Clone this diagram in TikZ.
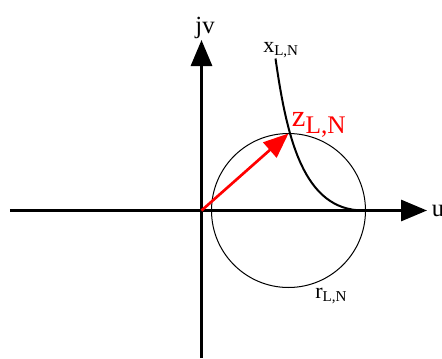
\documentclass[tikz,border=0pt]{standalone}
\usepackage{fontspec}
\setmainfont{Liberation Serif}
\usepackage{xcolor}
\usepackage{tikz}
\usetikzlibrary{arrows.meta,positioning}
\definecolor{zred}{HTML}{FF0000}
\newcommand{\axlbl}[2]{{\fontsize{16.5}{18}\selectfont #1}\raisebox{-2.5pt}{\fontsize{11.3}{12}\selectfont #2}}
\newcommand{\zlbl}[2]{{\fontsize{23}{25}\selectfont #1}\raisebox{-5pt}{\fontsize{19}{20}\selectfont #2}}

\begin{document}
\begin{tikzpicture}[x=0.75pt,y=0.75pt,
    axis/.style={line width=2.25pt, -{Triangle[length=19.5pt,width=15.75pt]}},
    lbl/.style={inner sep=0pt, anchor=base west}]
      \useasboundingbox (-201.5,-147.5) rectangle (240.5,210.5);
      \coordinate (O) at (0,0);
      \coordinate (ustart) at (-191.5,0);
      \coordinate (uend) at (225.5,0);
      \coordinate (vstart) at (0,-147.5);
      \coordinate (vend) at (0,170.5);
      \coordinate (xtop) at (74,152);
      \coordinate (xend) at (162,0);
      % axes
      \draw[axis] (ustart) -- (uend);
      \draw[axis] (vstart) -- (vend);
      \node[lbl] (ulbl) at (230.2,-6.2) {\fontsize{18.5}{20}\selectfont u};
      \node[inner sep=0pt, anchor=base] (vlbl) at (3.5,177.5) {\fontsize{18.5}{20}\selectfont jv};
      % r and x curves
      \node[draw, circle, line width=0.75pt, minimum size=115.5pt, inner sep=0pt, outer sep=0pt] (rcirc) at (87,0) {};
      \draw[line width=1.5pt] (xtop) .. controls (85.4,72) and (102,0) .. (xend);
      \node[lbl] (xlbl) at (61.5,158.5) {\axlbl{x}{L,N}};
      \node[lbl] (rlbl) at (113.5,-87.5) {\axlbl{r}{L,N}};
      % impedance vector
      \draw[zred, line width=2pt, -{Triangle[length=18.75pt,width=15pt]}] (O) -- (rcirc.north);
      \node[lbl, text=zred] (zlbl) at (90.2,83.8) {\zlbl{z}{L,N}};
    \end{tikzpicture}
\end{document}
